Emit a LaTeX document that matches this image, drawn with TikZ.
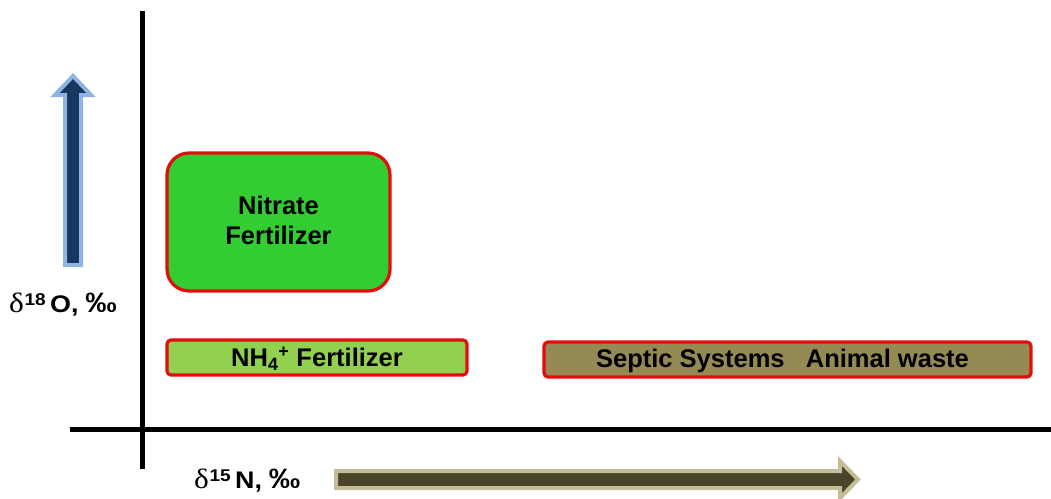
\documentclass[tikz,border=0pt]{standalone}
\usepackage{fontspec}
\setmainfont{Liberation Sans}
\newfontfamily\grk{Liberation Serif}
\definecolor{redline}{RGB}{228,12,12}
\definecolor{nitgreen}{RGB}{51,204,51}
\definecolor{nhgreen}{RGB}{146,208,80}
\definecolor{olivebox}{RGB}{148,138,84}
\definecolor{navyfill}{RGB}{23,55,94}
\definecolor{lightblue}{RGB}{141,180,226}
\definecolor{darkolive}{RGB}{74,69,42}
\definecolor{tanline}{RGB}{196,189,151}
\newcommand{\axlabel}[2]{\scalebox{1.12}[1]{{\grk\fontsize{28}{30}\selectfont δ}\hspace{0.5pt}\raisebox{7pt}{\fontsize{17}{18}\selectfont\bfseries #1}\hspace{4pt}{\fontsize{24}{28}\selectfont\bfseries #2,\hspace{6pt}{\fontsize{28}{28}\selectfont ‰}}}}
\tikzset{
  srcbox/.style={draw=redline, line width=3.2pt, inner sep=0pt},
  lbl/.style={font=\fontsize{25.5}{30}\selectfont\bfseries, align=center, inner sep=0pt},
  axlbl/.style={inner sep=0pt},
  axisline/.style={line width=5pt, black},
}
\begin{document}
\begin{tikzpicture}[x=1pt,y=-1pt]
\useasboundingbox (0,0) rectangle (1051,498);
% axes
\coordinate (vtop) at (142,11);
\coordinate (vbot) at (142,469);
\coordinate (hl) at (70,429);
\coordinate (hr) at (1051,429);
\draw[axisline] (vtop) -- (vbot);
\draw[axisline] (hl) -- (hr);
% up arrow
\draw[fill=navyfill, draw=lightblue, line width=4pt, line join=miter]
  (65,265) -- (65,95) -- (55,95) -- (73,76) -- (91,95) -- (81,95) -- (81,265) -- cycle;
% right arrow
\draw[fill=darkolive, draw=tanline, line width=4pt, line join=miter]
  (336,471) -- (840,471) -- (840,461) -- (858,479.5) -- (840,498) -- (840,488) -- (336,488) -- cycle;
% boxes
\node[srcbox, fill=nitgreen, rounded corners=22pt, minimum width=223pt, minimum height=138pt] (nit) at (278.5,222) {};
\node[lbl] (nittext) at ([yshift=2pt]nit.center) {Nitrate\\Fertilizer};
\node[srcbox, fill=nhgreen, rounded corners=4pt, minimum width=300pt, minimum height=35pt] (nh) at (317,357.5) {};
\node[lbl] (nhtext) at ([yshift=-1pt]nh.center) {NH\textsubscript{4}\textsuperscript{+} Fertilizer};
\node[srcbox, fill=olivebox, rounded corners=4pt, minimum width=487pt, minimum height=35pt] (sep) at (787.5,359.5) {};
\node[lbl] (septext) at ([xshift=-5pt,yshift=-1pt]sep.center) {Septic Systems\ \ \ Animal waste};
% axis labels
\node[axlbl, anchor=west] (ylab) at (9,305) {\axlabel{18}{O}};
\node[axlbl, anchor=west] (xlab) at (194,481) {\axlabel{15}{N}};
\end{tikzpicture}
\end{document}
